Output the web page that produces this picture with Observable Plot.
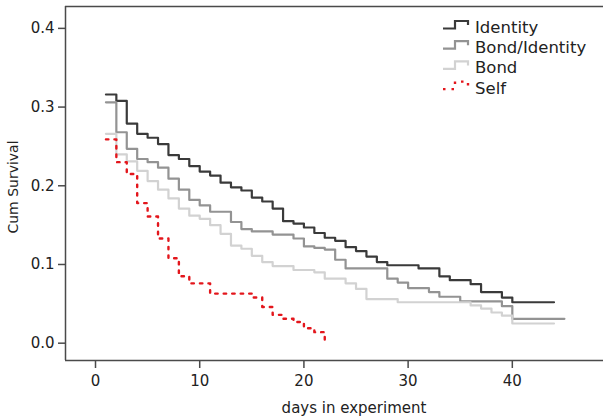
<!DOCTYPE html>
<html>
<head>
<meta charset="utf-8">
<script src="https://cdn.jsdelivr.net/npm/d3@7"></script>
<script src="https://cdn.jsdelivr.net/npm/@observablehq/plot@0.6"></script>
<style>
  html, body { margin: 0; padding: 0; background: #fff; }
  svg { display: block; }
</style>
</head>
<body>
<div id="chart"></div>
<script>
// ---- data (Kaplan–Meier step curves) ----
const seriesNames = ["Identity", "Bond/Identity", "Bond", "Self"];

const identityDays = [1,2,3,4,5,6,7,8,9,10,11,12,13,14,15,16,17,18,19,20,21,22,23,24,25,26,27,28,31,33,34,36,37,39,40,44];
const identitySurv = [0.316,0.308,0.279,0.266,0.261,0.253,0.239,0.234,0.225,0.218,0.213,0.204,0.198,0.194,0.185,0.180,0.171,0.155,0.152,0.147,0.140,0.134,0.130,0.122,0.117,0.110,0.103,0.099,0.095,0.085,0.080,0.075,0.065,0.058,0.052,0.052];

const bondIdentityDays = [1,2,3,4,5,6,7,8,9,10,11,13,14,15,17,19,20,21,22,23,24,28,29,30,32,33,35,39,40,45];
const bondIdentitySurv = [0.306,0.268,0.247,0.234,0.230,0.223,0.209,0.195,0.182,0.175,0.167,0.154,0.145,0.142,0.138,0.133,0.123,0.121,0.119,0.106,0.095,0.082,0.077,0.070,0.065,0.059,0.053,0.047,0.031,0.031];

const bondDays = [1,2,3,4,5,6,7,8,9,10,11,12,13,14,15,16,17,19,21,22,24,25,26,29,36,37,38,39,40,44];
const bondSurv = [0.266,0.240,0.231,0.219,0.206,0.195,0.184,0.171,0.162,0.158,0.150,0.139,0.124,0.120,0.111,0.103,0.098,0.093,0.090,0.082,0.076,0.069,0.056,0.052,0.048,0.044,0.039,0.035,0.025,0.025];

const selfDays = [1,2,3,4,5,6,7,8,9,11,15,16,17,18,19,20,21,22];
const selfSurv = [0.259,0.230,0.215,0.178,0.161,0.133,0.108,0.085,0.076,0.063,0.058,0.046,0.036,0.031,0.027,0.019,0.014,0.003];

const xTicks = [0, 10, 20, 30, 40];
const yTicks = [0, 0.1, 0.2, 0.3, 0.4];

// ---- build table ----
const seriesDays = [identityDays, bondIdentityDays, bondDays, selfDays];
const seriesSurv = [identitySurv, bondIdentitySurv, bondSurv, selfSurv];
const rows = [];
seriesNames.forEach((name, i) => {
  seriesDays[i].forEach((d, j) => rows.push({series: name, day: d, surv: seriesSurv[i][j]}));
});

const styles = {
  "Identity":      {stroke: "#3a3a3a", strokeWidth: 2.2},
  "Bond/Identity": {stroke: "#939393", strokeWidth: 2.2},
  "Bond":          {stroke: "#d2d2d2", strokeWidth: 2.2},
  "Self":          {stroke: "#e3161c", strokeWidth: 2.4, strokeDasharray: "2.5,6"}
};

const xDomain = [-2.88, 48.75];
const yDomain = [-0.022, 0.4278];
const axisColor = "#4a4a4a";
const font = "DejaVu Sans, Verdana, sans-serif";

const chart = Plot.plot({
  width: 603,
  height: 418,
  marginLeft: 65,
  marginRight: 0,
  marginTop: 6,
  marginBottom: 58,
  style: {fontFamily: font, fontSize: "15px", color: "#222", background: "#fff"},
  x: {domain: xDomain, label: null},
  y: {domain: yDomain, label: null},
  marks: [
    Plot.axisX({ticks: xTicks, tickSize: 8, tickPadding: 7, stroke: axisColor, strokeWidth: 1.5, fontSize: 15, label: null}),
    Plot.axisY({ticks: yTicks, tickSize: 7, tickPadding: 4, tickFormat: d3.format(".1f"), stroke: axisColor, strokeWidth: 1.5, fontSize: 15, label: null}),
    Plot.ruleY([yDomain[0]], {stroke: axisColor, strokeWidth: 1.5}),
    Plot.ruleY([yDomain[1]], {stroke: axisColor, strokeWidth: 1.5}),
    Plot.ruleX([xDomain[0]], {stroke: axisColor, strokeWidth: 1.5}),
    ...seriesNames.map(name =>
      Plot.line(rows.filter(r => r.series === name), {
        x: "day", y: "surv", curve: "step-after",
        ...styles[name]
      })
    )
  ]
});

const svg = d3.select(chart);

// axis titles
svg.append("text")
  .attr("x", 354).attr("y", 413)
  .attr("text-anchor", "middle")
  .attr("font-family", font).attr("font-size", 15).attr("fill", "#222")
  .text("days in experiment");
svg.append("text")
  .attr("transform", "translate(18,187) rotate(-90)")
  .attr("text-anchor", "middle")
  .attr("font-family", font).attr("font-size", 14).attr("fill", "#222")
  .text("Cum Survival");

// legend
const legend = svg.append("g").attr("text-anchor", "start");
seriesNames.forEach((name, i) => {
  const cy = 27 + i * 20.2;
  const st = styles[name];
  legend.append("path")
    .attr("d", `M443,${cy + 1.5}H455V${cy - 6}H468V${cy - 2}`)
    .attr("fill", "none")
    .attr("stroke", st.stroke)
    .attr("stroke-width", st.strokeWidth)
    .attr("stroke-dasharray", st.strokeDasharray || null);
  legend.append("text")
    .attr("x", 475).attr("y", cy + 6)
    .attr("text-anchor", "start")
    .attr("font-family", font).attr("font-size", 16.5).attr("fill", "#222")
    .text(name);
});

document.getElementById("chart").appendChild(chart);
</script>
</body>
</html>
